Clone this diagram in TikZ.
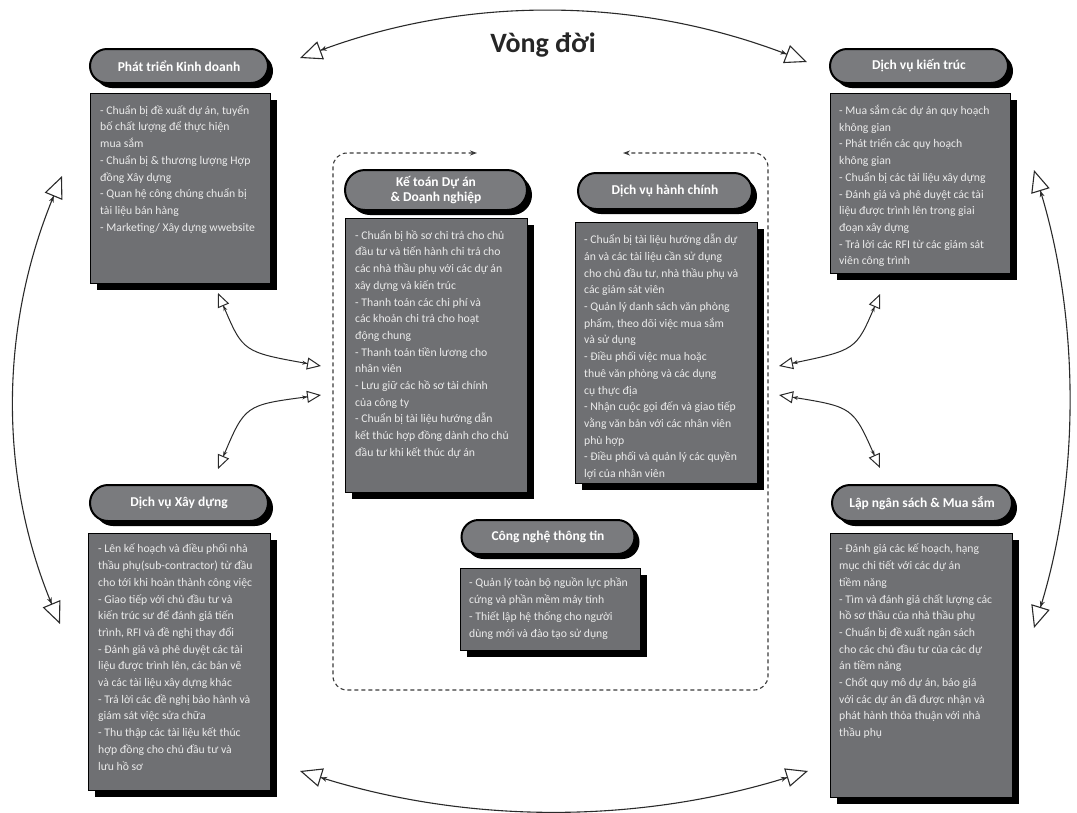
\documentclass[tikz,border=0pt]{standalone}
\usepackage{fontspec}
\setmainfont{Carlito}
\usetikzlibrary{arrows.meta,shadows}
\definecolor{boxgray}{HTML}{6F7073}
\definecolor{pillgray}{HTML}{7A7B7E}
\definecolor{dashgray}{HTML}{3A3A3A}
\definecolor{linegray}{HTML}{2A2A2A}

\begin{document}
\begin{tikzpicture}[x=1pt,y=-1pt,
  pill/.style={draw=black, line width=2pt, fill=pillgray, minimum height=34pt,
    rounded corners=17pt, text=white, align=center, inner sep=0pt,
    font=\fontsize{13.5}{15.5}\selectfont\bfseries,
    general shadow={fill=black, shadow xshift=5pt, shadow yshift=-5pt}},
  body/.style={draw=black, line width=0.8pt, fill=boxgray, inner sep=0pt,
    anchor=north west,
    general shadow={fill=black, shadow xshift=7pt, shadow yshift=-7pt}},
  bodytext/.style={text=white!92!black, align=left, inner sep=0pt, anchor=north west,
    font=\fontsize{11.7}{16.7}\selectfont},
  bigtip/.tip={Triangle[open,length=22pt,width=19pt,line width=1.1pt]},
  smalltip/.tip={Triangle[open,length=14pt,width=12pt,line width=1pt]},
  bigarrow/.style={line width=1.1pt, draw=linegray,
    {bigtip[] Stealth[length=6pt,width=5pt]}-{Stealth[length=6pt,width=5pt] bigtip[]}},
  smallarrow/.style={line width=1pt, draw=linegray,
    {smalltip[] Stealth[length=5pt,width=4pt]}-{Stealth[length=5pt,width=4pt] smalltip[]}},
  container/.style={draw=dashgray, line width=1.1pt, dash pattern=on 4pt off 3pt,
    rounded corners=14pt, {Stealth[length=7pt,width=5pt]}-{Stealth[length=7pt,width=5pt]}}
]
\useasboundingbox (0,0) rectangle (1077,812);

% title
\node[font=\fontsize{28}{30}\selectfont\bfseries, text=black!85] (title) at (543,45) {Vòng đời};

% dashed frame around the three central departments
\coordinate (fl) at (477,153);
\coordinate (fr) at (623,153);
\draw[container] (fl) -- (333,153) -- (333,690) -- (768,690) -- (768,153) -- (fr);

% ---------- Phát triển Kinh doanh ----------
\node[body, minimum width=180pt, minimum height=190pt] (b1) at (90,93) {};
\node[pill, minimum width=178pt] (h1) at (179,66) {Phát triển Kinh doanh};
\node[bodytext] (t1) at ([shift={(10,12)}]b1.north west) {%
- Chuẩn bị đề xuất dự án, tuyển\\
bố chất lượng để thực hiện\\
mua sắm\\
- Chuẩn bị \& thương lượng Hợp\\
đồng Xây dựng\\
- Quan hệ công chúng chuẩn bị\\
tài liệu bán hàng\\
- Marketing/ Xây dựng wwebsite};

% ---------- Dịch vụ kiến trúc ----------
\node[body, minimum width=180pt, minimum height=180pt] (b2) at (830,93) {};
\node[pill, minimum width=178pt] (h2) at (919,66) {Dịch vụ kiến trúc};
\node[bodytext] (t2) at ([shift={(9,12)}]b2.north west) {%
- Mua sắm các dự án quy hoạch\\
không gian\\
- Phát triển các quy hoạch\\
không gian\\
- Chuẩn bị các tài liệu xây dựng\\
- Đánh giá và phê duyệt các tài\\
liệu được trình lên trong giai\\
đoạn xây dựng\\
- Trả lời các RFI từ các giám sát\\
viên công trình};

% ---------- Kế toán Dự án & Doanh nghiệp ----------
\node[body, minimum width=182pt, minimum height=274pt] (b3) at (345,218) {};
\node[pill, minimum width=182pt, minimum height=40pt, rounded corners=20pt] (h3) at (436,190) {Kế toán Dự án\\\& Doanh nghiệp};
\node[bodytext] (t3) at ([shift={(10,12)}]b3.north west) {%
- Chuẩn bị hồ sơ chi trả cho chủ\\
đầu tư và tiến hành chi trả cho\\
các nhà thầu phụ với các dự án\\
xây dựng và kiến trúc\\
- Thanh toán các chi phí và\\
các khoản chi trả cho hoạt\\
động chung\\
- Thanh toán tiền lương cho\\
nhân viên\\
- Lưu giữ các hồ sơ tài chính\\
của công ty\\
- Chuẩn bị tài liệu hướng dẫn\\
kết thúc hợp đồng dành cho chủ\\
đầu tư khi kết thúc dự án};

% ---------- Dịch vụ hành chính ----------
\node[body, minimum width=182pt, minimum height=261pt] (b4) at (575,222) {};
\node[pill, minimum width=174pt, minimum height=36pt, rounded corners=18pt] (h4) at (665,191) {Dịch vụ hành chính};
\node[bodytext] (t4) at ([shift={(9,12)}]b4.north west) {%
- Chuẩn bị tài liệu hướng dẫn dự\\
án và các tài liệu cần sử dụng\\
cho chủ đầu tư, nhà thầu phụ và\\
các giám sát viên\\
- Quản lý danh sách văn phòng\\
phẩm, theo dõi việc mua sắm\\
và sử dụng\\
- Điều phối việc mua hoặc\\
thuê văn phòng và các dụng\\
cụ thực địa\\
- Nhận cuộc gọi đến và giao tiếp\\
vằng văn bản với các nhân viên\\
phù hợp\\
- Điều phối và quản lý các quyền\\
lợi của nhân viên};

% ---------- Công nghệ thông tin ----------
\node[body, minimum width=180pt, minimum height=82pt] (b5) at (460,568) {};
\node[pill, minimum width=173pt] (h5) at (548,537) {Công nghệ thông tin};
\node[bodytext] (t5) at ([shift={(9,10)}]b5.north west) {%
- Quản lý toàn bộ nguồn lực phần\\
cứng và phần mềm máy tính\\
- Thiết lập hệ thống cho người\\
dùng mới và đào tạo sử dụng};

% ---------- Dịch vụ Xây dựng ----------
\node[body, minimum width=182pt, minimum height=257pt] (b6) at (88,533) {};
\node[pill, minimum width=178pt, minimum height=36pt, rounded corners=18pt] (h6) at (179,503) {Dịch vụ Xây dựng};
\node[bodytext] (t6) at ([shift={(10,11)}]b6.north west) {%
- Lên kế hoạch và điều phối nhà\\
thầu phụ(sub-contractor) từ đầu\\
cho tới khi hoàn thành công việc\\
- Giao tiếp với chủ đầu tư và\\
kiến trúc sư để đánh giá tiến\\
trình, RFI và đề nghị thay đổi\\
- Đánh giá và phê duyệt các tài\\
liệu được trình lên, các bản vẽ\\
và các tài liệu xây dựng khác\\
- Trả lời các đề nghị bảo hành và\\
giám sát việc sửa chữa\\
- Thu thập các tài liệu kết thúc\\
hợp đồng cho chủ đầu tư và\\
lưu hồ sơ};

% ---------- Lập ngân sách & Mua sắm ----------
\node[body, minimum width=182pt, minimum height=264pt] (b7) at (830,533) {};
\node[pill, minimum width=180pt, minimum height=36pt, rounded corners=18pt] (h7) at (922,503) {Lập ngân sách \& Mua sắm};
\node[bodytext] (t7) at ([shift={(9,11)}]b7.north west) {%
- Đánh giá các kế hoạch, hạng\\
mục chi tiết với các dự án\\
tiềm năng\\
- Tìm và đánh giá chất lượng các\\
hồ sơ thầu của nhà thầu phụ\\
- Chuẩn bị đề xuất ngân sách\\
cho các chủ đầu tư của các dự\\
án tiềm năng\\
- Chốt quy mô dự án, báo giá\\
với các dự án đã được nhận và\\
phát hành thỏa thuận với nhà\\
thầu phụ};

% ---------- life-cycle arcs ----------
\coordinate (cTL) at (300,58);
\coordinate (cTR) at (807,62);
\coordinate (cBL) at (300,771);
\coordinate (cBR) at (808,771);
\coordinate (cLT) at (62,176);
\coordinate (cLB) at (60,624);
\coordinate (cRT) at (1034,170);
\coordinate (cRB) at (1034,628);
\draw[bigarrow] (cTL) .. controls (469,-5) and (638,-3) .. (cTR);
\draw[bigarrow] (cBL) .. controls (469,824) and (638,824) .. (cBR);
\draw[bigarrow] (cLT) .. controls (0,325) and (-2,475) .. (cLB);
\draw[bigarrow] (cRT) .. controls (1080,320) and (1080,480) .. (cRB);

% ---------- links to the central departments ----------
\coordinate (aL1) at (218,293);
\coordinate (aL2) at (321,366);
\coordinate (aL3) at (321,395);
\coordinate (aL4) at (218,469);
\coordinate (aR1) at (880,294);
\coordinate (aR2) at (779,366);
\coordinate (aR3) at (779,395);
\coordinate (aR4) at (880,468);
\draw[smallarrow] (aL1) .. controls (243,352) .. (aL2);
\draw[smallarrow] (aL3) .. controls (245,405) .. (aL4);
\draw[smallarrow] (aR1) .. controls (856,350) .. (aR2);
\draw[smallarrow] (aR3) .. controls (853,407) .. (aR4);
\end{tikzpicture}
\end{document}
